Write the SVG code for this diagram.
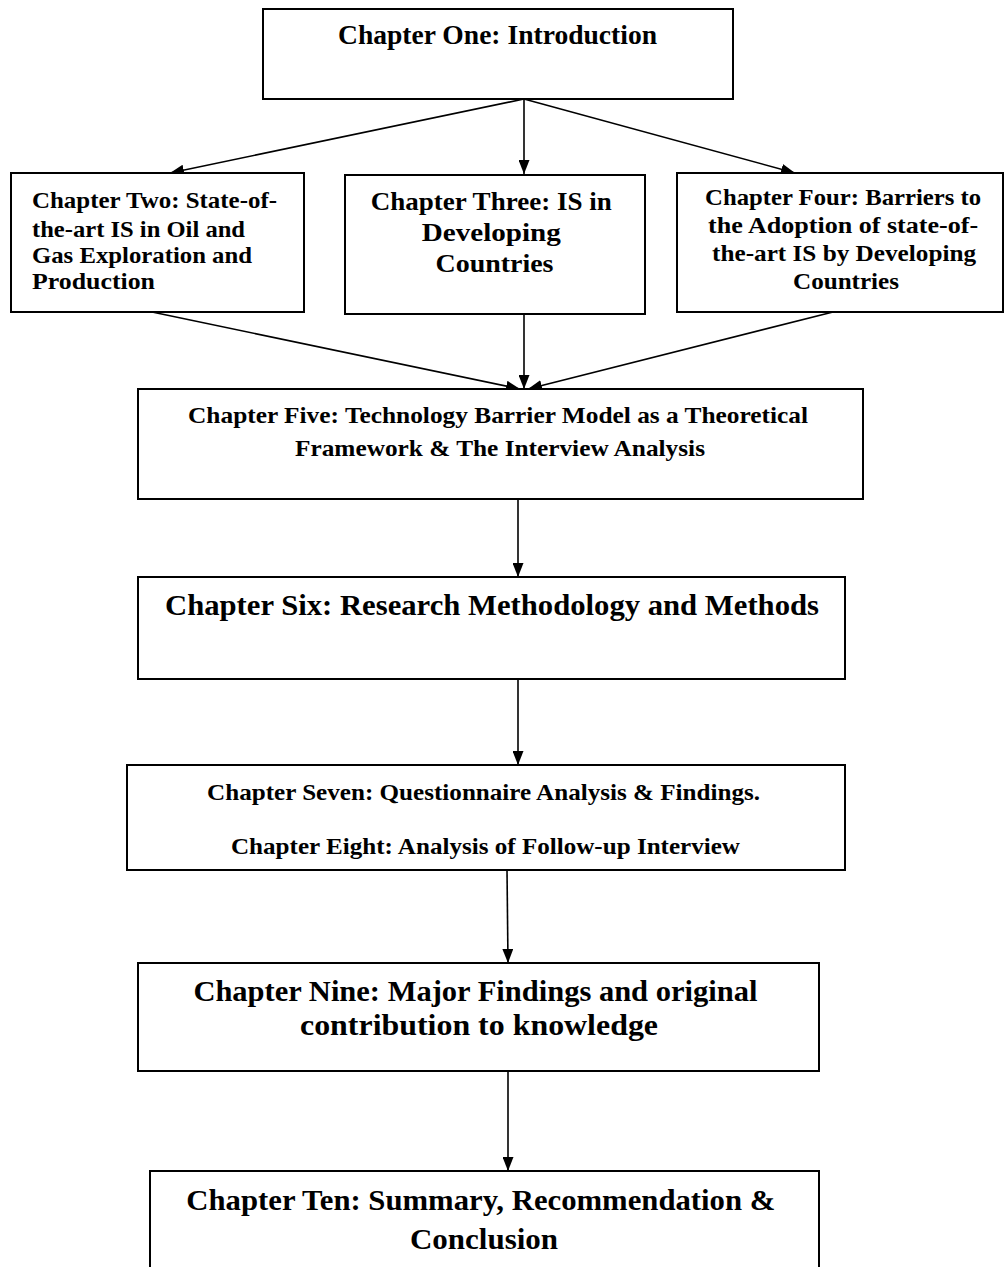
<svg xmlns="http://www.w3.org/2000/svg" width="1005" height="1267" viewBox="0 0 1005 1267">
  <style>
    .box { fill: #ffffff; stroke: #000000; stroke-width: 2; }
    .lbl { font-family: "Liberation Serif", "Times New Roman", serif; font-weight: bold; fill: #000000; }
    .mid { text-anchor: middle; }
    .edge { fill: none; stroke: #000000; stroke-width: 1.6; marker-end: url(#arrow); }
  </style>
  <defs>
    <marker id="arrow" markerUnits="userSpaceOnUse" markerWidth="14" markerHeight="11" refX="14" refY="5.5" orient="auto">
      <path d="M0,0 L14,5.5 L0,11 z" fill="#000000"/>
    </marker>
  </defs>
  <rect width="1005" height="1267" fill="#ffffff"/>

  <g id="connectors">
    <line class="edge" x1="524" y1="99" x2="170" y2="173"/>
    <line class="edge" x1="524" y1="99" x2="524" y2="174"/>
    <line class="edge" x1="524" y1="99" x2="795" y2="173"/>
    <line class="edge" x1="152" y1="312" x2="520" y2="389"/>
    <line class="edge" x1="524" y1="314" x2="524" y2="389"/>
    <line class="edge" x1="833" y1="312" x2="528" y2="389"/>
    <line class="edge" x1="518" y1="499" x2="518" y2="577"/>
    <line class="edge" x1="518" y1="679" x2="518" y2="765"/>
    <line class="edge" x1="507" y1="870" x2="508" y2="963"/>
    <line class="edge" x1="508" y1="1071" x2="508" y2="1171"/>
  </g>

  <g id="ch1">
    <rect class="box" x="263" y="9" width="470" height="90"/>
    <text class="lbl mid" x="497.5" y="44" font-size="26.5" textLength="319" lengthAdjust="spacingAndGlyphs">Chapter One: Introduction</text>
  </g>

  <g id="ch2">
    <rect class="box" x="11" y="173" width="293" height="139"/>
    <text class="lbl" font-size="23.5">
      <tspan x="32" y="208" textLength="245" lengthAdjust="spacingAndGlyphs">Chapter Two: State-of-</tspan>
      <tspan x="32" y="237" textLength="213" lengthAdjust="spacingAndGlyphs">the-art IS in Oil and</tspan>
      <tspan x="32" y="263" textLength="220" lengthAdjust="spacingAndGlyphs">Gas Exploration and</tspan>
      <tspan x="32" y="289" textLength="123" lengthAdjust="spacingAndGlyphs">Production</tspan>
    </text>
  </g>

  <g id="ch3">
    <rect class="box" x="345" y="175" width="300" height="139"/>
    <text class="lbl mid" font-size="26">
      <tspan x="494.5" y="210" textLength="241" lengthAdjust="spacingAndGlyphs">Chapter Three: IS in</tspan>
      <tspan x="494.5" y="241" textLength="139" lengthAdjust="spacingAndGlyphs">Developing</tspan>
      <tspan x="494.5" y="272" textLength="118" lengthAdjust="spacingAndGlyphs">Countries</tspan>
    </text>
  </g>

  <g id="ch4">
    <rect class="box" x="677" y="173" width="326" height="139"/>
    <text class="lbl mid" font-size="23.5">
      <tspan x="846" y="205" textLength="276" lengthAdjust="spacingAndGlyphs">Chapter Four: Barriers to</tspan>
      <tspan x="846" y="233" textLength="270" lengthAdjust="spacingAndGlyphs">the Adoption of state-of-</tspan>
      <tspan x="847" y="261" textLength="264" lengthAdjust="spacingAndGlyphs">the-art IS by Developing</tspan>
      <tspan x="846" y="289" textLength="106" lengthAdjust="spacingAndGlyphs">Countries</tspan>
    </text>
  </g>

  <g id="ch5">
    <rect class="box" x="138" y="389" width="725" height="110"/>
    <text class="lbl mid" font-size="23.5">
      <tspan x="501" y="423" textLength="620" lengthAdjust="spacingAndGlyphs">Chapter Five: Technology Barrier Model as a Theoretical</tspan>
      <tspan x="500" y="456" textLength="410" lengthAdjust="spacingAndGlyphs">Framework &amp; The Interview Analysis</tspan>
    </text>
  </g>

  <g id="ch6">
    <rect class="box" x="138" y="577" width="707" height="102"/>
    <text class="lbl mid" x="492" y="615" font-size="30" textLength="654" lengthAdjust="spacingAndGlyphs">Chapter Six: Research Methodology and Methods</text>
  </g>

  <g id="ch7">
    <rect class="box" x="127" y="765" width="718" height="105"/>
    <text class="lbl mid" font-size="23.5">
      <tspan x="486.5" y="800" textLength="553" lengthAdjust="spacingAndGlyphs">Chapter Seven: Questionnaire Analysis &amp; Findings.</tspan>
      <tspan x="485.5" y="854" textLength="509" lengthAdjust="spacingAndGlyphs">Chapter Eight: Analysis of Follow-up Interview</tspan>
    </text>
  </g>

  <g id="ch9">
    <rect class="box" x="138" y="963" width="681" height="108"/>
    <text class="lbl mid" font-size="29">
      <tspan x="479" y="1001" textLength="564" lengthAdjust="spacingAndGlyphs">Chapter Nine: Major Findings and original</tspan>
      <tspan x="479" y="1035" textLength="358" lengthAdjust="spacingAndGlyphs">contribution to knowledge</tspan>
    </text>
  </g>

  <g id="ch10">
    <rect class="box" x="150" y="1171" width="669" height="120"/>
    <text class="lbl mid" font-size="29.5">
      <tspan x="484.5" y="1210" textLength="589" lengthAdjust="spacingAndGlyphs">Chapter Ten: Summary, Recommendation &amp;</tspan>
      <tspan x="484" y="1249" textLength="148" lengthAdjust="spacingAndGlyphs">Conclusion</tspan>
    </text>
  </g>
</svg>
